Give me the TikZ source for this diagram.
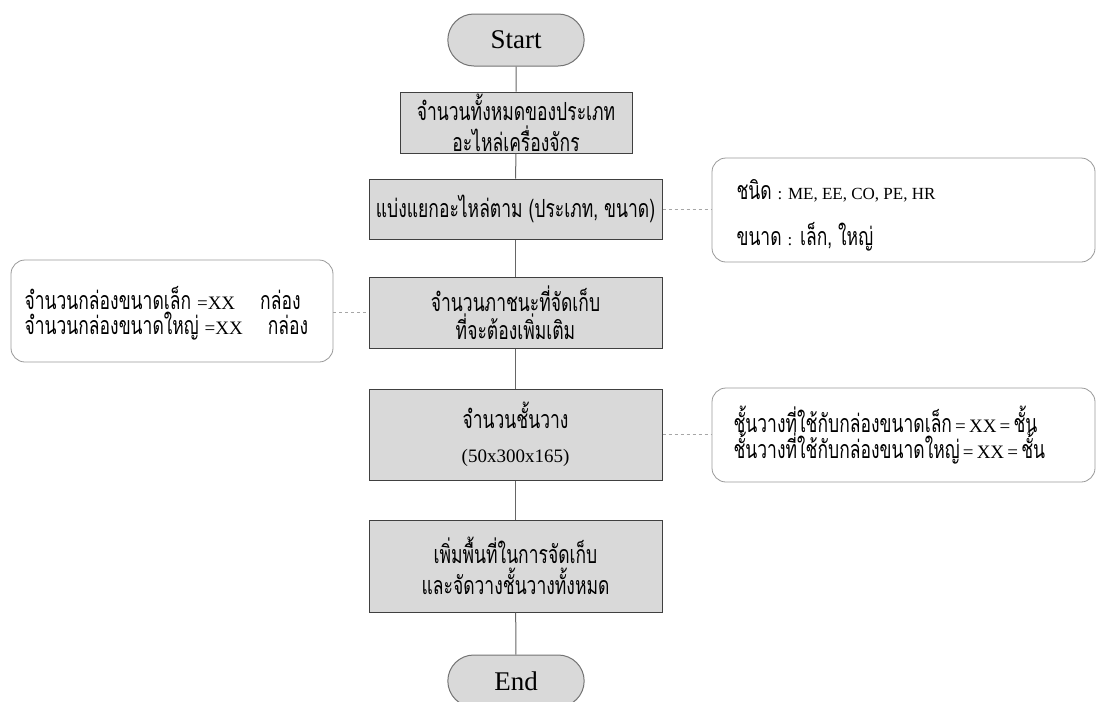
\documentclass[tikz,border=0pt]{standalone}
\usepackage{fontspec}
\setmainfont{Liberation Serif}
\newfontfamily\thai[Script=Thai,FakeStretch=0.7]{Loma}
\usetikzlibrary{shapes.misc}
\begin{document}
\begin{tikzpicture}[x=1pt,y=-1pt,
  flow/.style={draw=black!75,fill=black!15,line width=1pt,minimum width=293pt,align=center,inner sep=0pt},
  term/.style={draw=black!55,fill=black!15,line width=1pt,rounded rectangle,minimum width=143pt,minimum height=52pt,font=\fontsize{27}{29}\selectfont},
  note/.style={draw=black!40,fill=white,line width=0.8pt,rounded corners=14pt,align=left,inner sep=0pt},
  link/.style={draw=black!60,line width=1pt},
  tie/.style={draw=black!35,line width=0.8pt,dashed},
  tt/.style={font=\thai\fontsize{25}{31}\selectfont},
  lat/.style={}]
\useasboundingbox (0,0) rectangle (1096,702);
% main column
\node[term] (start) at (516,40) {Start};
\node[flow,minimum width=232pt,minimum height=61pt,tt] (b1) at (516,122.5) {จำนวนทั้งหมดของประเภท\\อะไหล่เครื่องจักร};
\node[flow,minimum height=60pt,tt] (b2) at (515.5,209) {แบ่งแยกอะไหล่ตาม (ประเภท, ขนาด)};
\node[flow,minimum height=71pt,tt] (b3) at (515.5,312.5) {จำนวนภาชนะที่จัดเก็บ\\[-3pt]ที่จะต้องเพิ่มเติม};
\node[flow,minimum height=91pt,tt,align=center] (b4) at (515.5,434.5) {จำนวนชั้นวาง\\[3pt]{\rmfamily\fontsize{19}{22}\selectfont(50x300x165)}};
\node[flow,minimum height=92pt,tt] (b5) at (515.5,566) {เพิ่มพื้นที่ในการจัดเก็บ\\และจัดวางชั้นวางทั้งหมด};
\node[term] (end) at (516,681) {End};
% side notes
\node[note,minimum width=383pt,minimum height=104pt] (n1) at (903.5,210) {};
\node[tt,anchor=west] (n1a) at (733,191) {ชนิด {\rmfamily\fontsize{17}{20}\selectfont : ME, EE, CO, PE, HR}};
\node[tt,anchor=west] (n1b) at (733,237) {ขนาด {\rmfamily\fontsize{17}{20}\selectfont :} เล็ก, ใหญ่};
\node[note,minimum width=322pt,minimum height=102pt] (n2) at (172,311) {};
\node[tt,anchor=west] (n2a) at (21,298) {จำนวนกล่องขนาดเล็ก {\rmfamily\fontsize{19}{22}\selectfont =XX}\quad กล่อง};
\node[tt,anchor=west] (n2b) at (21,326) {จำนวนกล่องขนาดใหญ่ {\rmfamily\fontsize{19}{22}\selectfont =XX}\quad กล่อง};
\node[note,minimum width=383pt,minimum height=94pt] (n3) at (903.5,435) {};
\node[tt,anchor=west] (n3a) at (730,419) {ชั้นวางที่ใช้กับกล่องขนาดเล็ก{\rmfamily\fontsize{19}{22}\selectfont\,=\,XX\,=\,}ชั้น};
\node[tt,anchor=west] (n3b) at (730,448) {ชั้นวางที่ใช้กับกล่องขนาดใหญ่{\rmfamily\fontsize{19}{22}\selectfont\,=\,XX\,=\,}ชั้น};
% connectors
\draw[link] (start) -- (b1);
\draw[link] (b1) -- (b2);
\draw[link] (b2) -- (b3);
\draw[link] (b3) -- (b4);
\draw[link] (b4) -- (b5);
\draw[link] (b5) -- (end);
\draw[tie] (b2.east) -- (b2.east -| n1.west);
\draw[tie] (n2.east |- b3.west) -- (b3.west);
\draw[tie] (b4.east) -- (b4.east -| n3.west);
\end{tikzpicture}
\end{document}
